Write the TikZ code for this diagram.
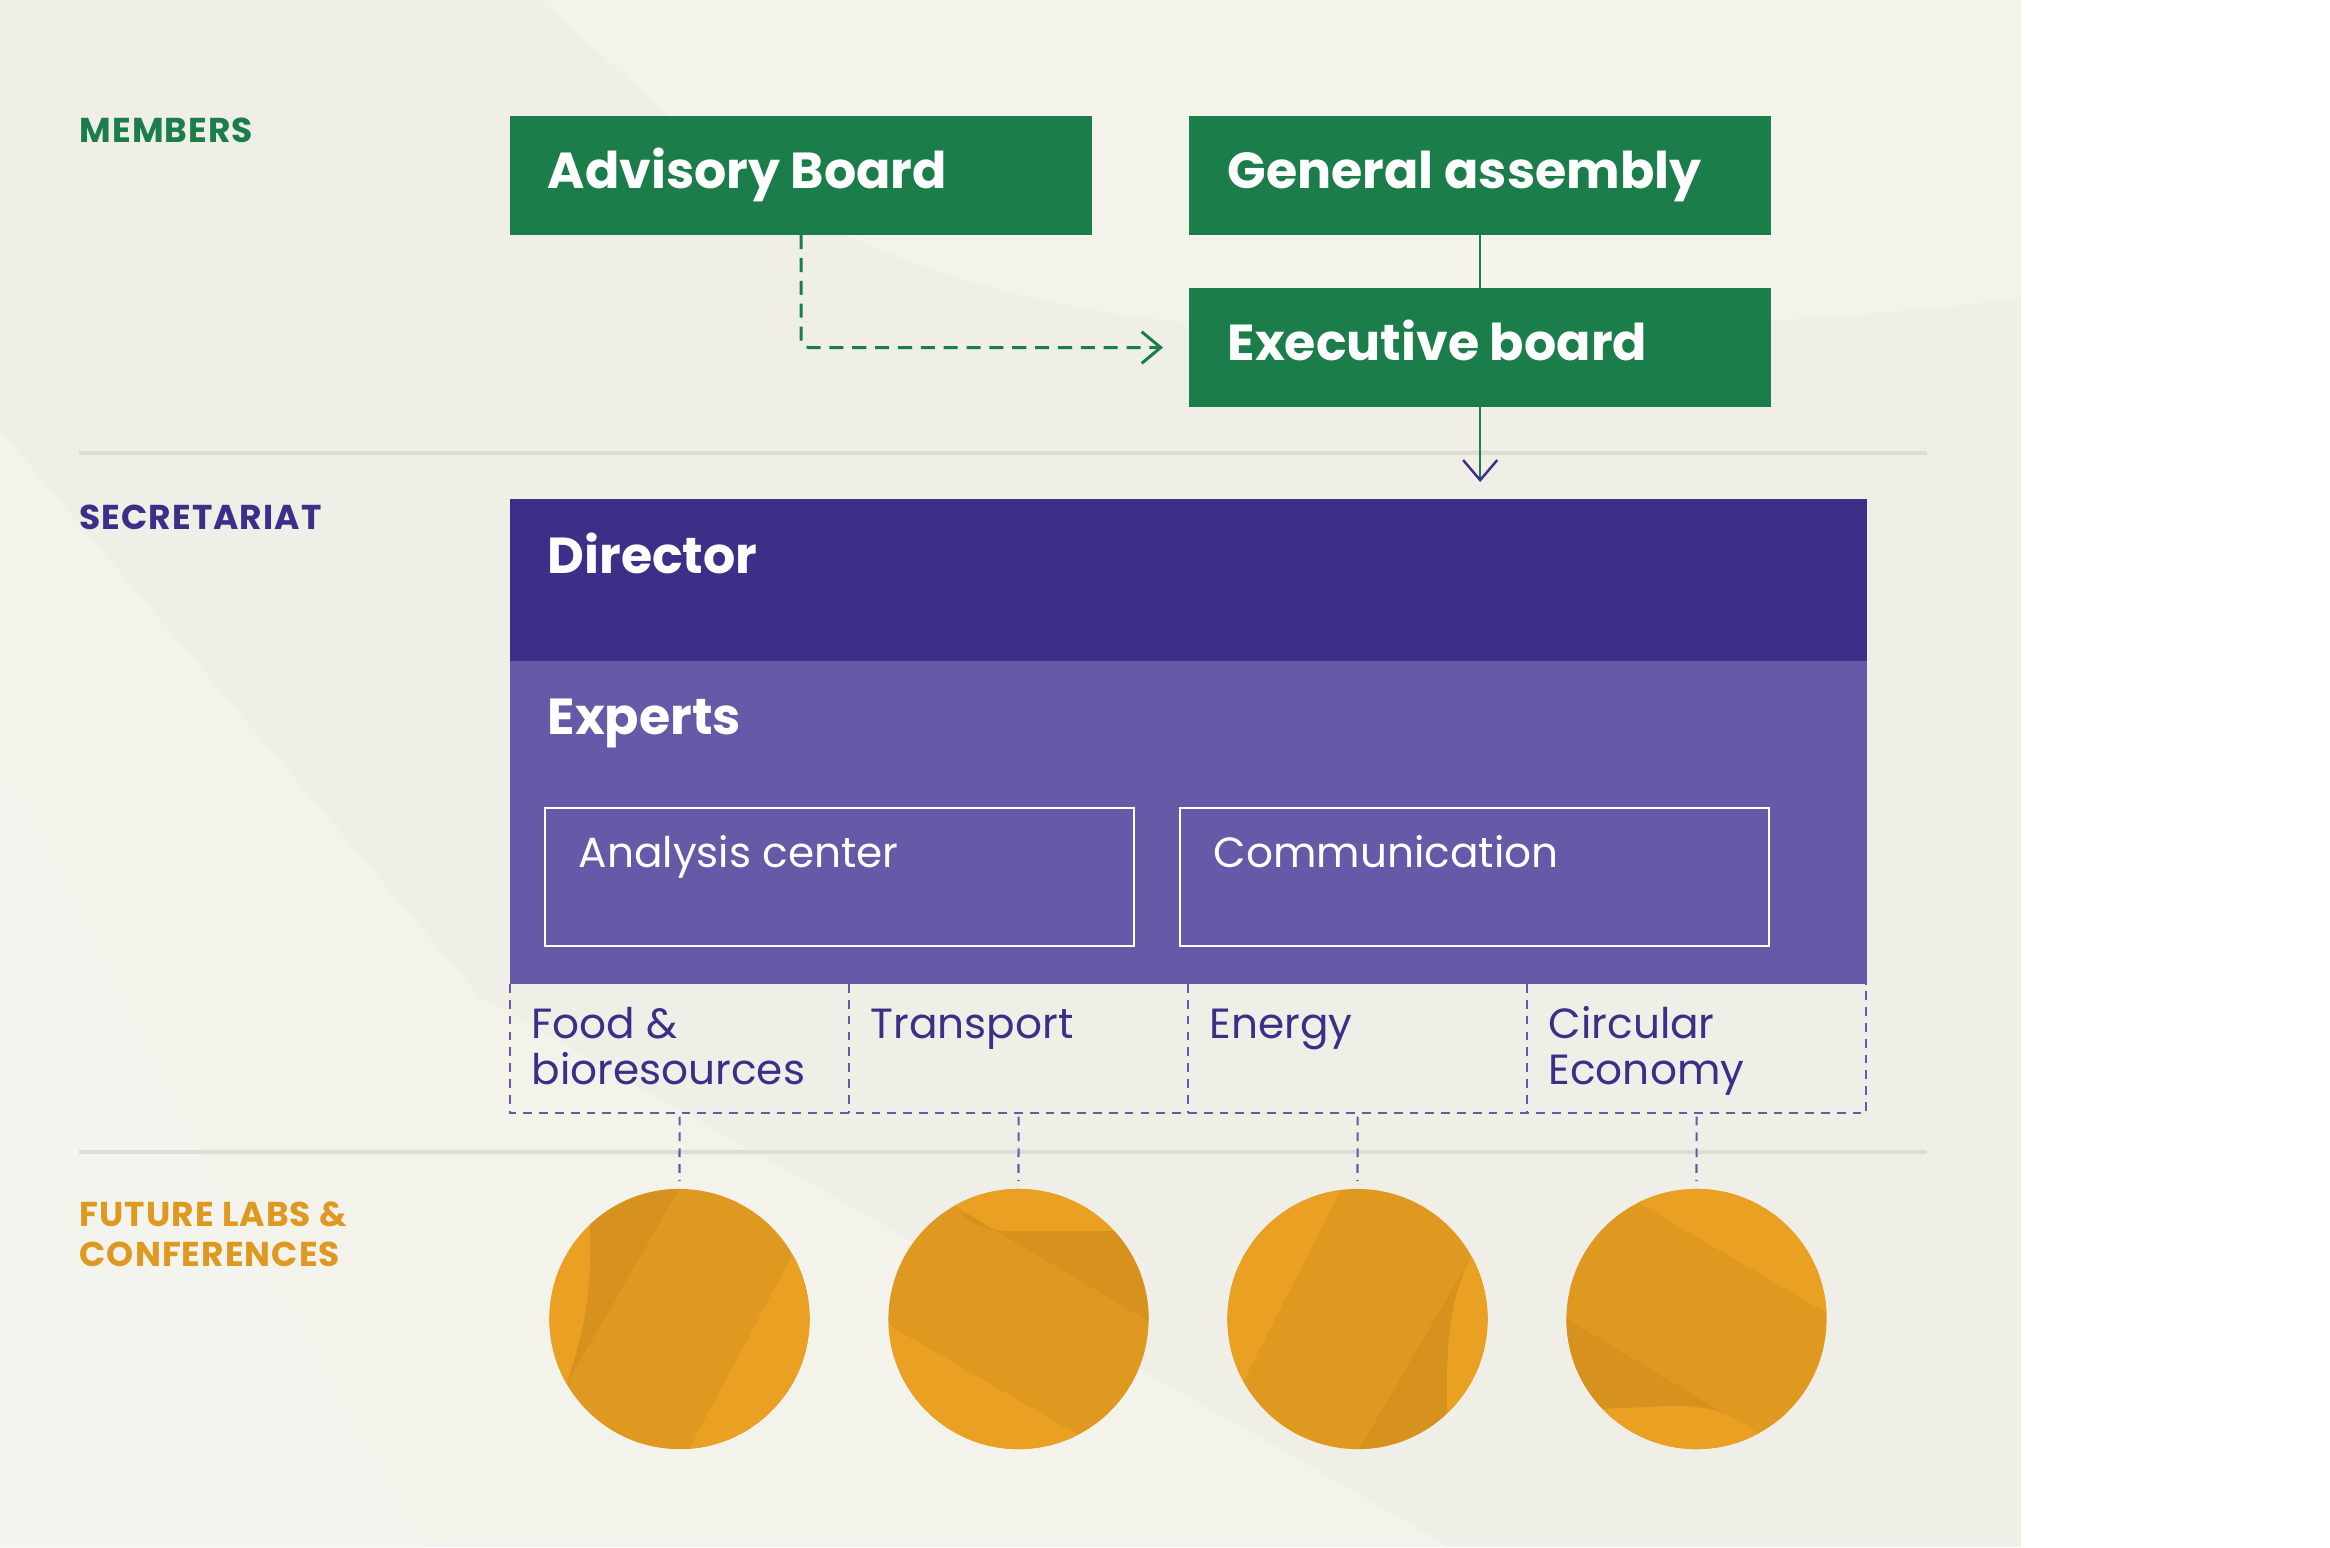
\documentclass[tikz,border=0pt]{standalone}
\usepackage{fontspec}
\setmainfont{Poppins}
\usetikzlibrary{arrows.meta}

\definecolor{boardgreen}{HTML}{1B7D4A}
\definecolor{dirpurple}{HTML}{3D2E88}
\definecolor{exppurple}{HTML}{6659A7}
\definecolor{labgold}{HTML}{DF9820}
\definecolor{labgoldlight}{HTML}{E9A023}
\definecolor{labgolddark}{HTML}{D6911F}
\definecolor{paper}{HTML}{EFEEE7}
\definecolor{paperlight}{HTML}{F3F3EC}
\definecolor{paperlighter}{HTML}{F4F4EE}
\definecolor{rulegrey}{HTML}{DDDCD6}

\begin{document}
\begin{tikzpicture}[x=0.01cm, y=-0.01cm,
    box/.style={rectangle, anchor=north west, inner sep=0pt, outer sep=0pt},
    title/.style={anchor=base west, inner sep=0pt, text=white, font=\fontsize{14.4}{16}\selectfont\bfseries},
    side/.style={anchor=base west, inner sep=0pt, font=\fontsize{9.8}{11}\selectfont\bfseries\addfontfeatures{LetterSpace=3}},
    plain/.style={anchor=base west, inner sep=0pt, font=\fontsize{12}{13}\selectfont},
    purpledash/.style={exppurple, line width=0.6pt, dash pattern=on 2.5pt off 2pt}]
  \useasboundingbox (0,0) rectangle (2330,1547);
  % background
  \fill[white] (0,0) rectangle (2330,1547);
  \fill[paper] (0,0) rectangle (2021,1547);
  \fill[paperlight] (540,0) -- (666,113) .. controls (800,240) and (1000,320) .. (1300,330)
     .. controls (1600,335) and (1850,320) .. (2021,298) -- (2021,0) -- cycle;
  \fill[paperlight] (0,430) -- (480,997) -- (1283,1450) -- (1450,1547) -- (0,1547) -- cycle;
  \fill[paperlighter] (0,760) -- (173,1100) -- (423,1547) -- (0,1547) -- cycle;
  \draw[rulegrey, line width=1.15pt] (79,453) -- (1927,453);
  \draw[rulegrey, line width=1.15pt] (79,1152) -- (1927,1152);

  % section labels
  \node[side, text=boardgreen] (members) at (79,142) {MEMBERS};
  \node[side, text=dirpurple] (secretariat) at (79,529) {SECRETARIAT};
  \node[side, text=labgold] (labs) at (79,1226) {FUTURE LABS \&};
  \node[side, text=labgold] (conferences) at (79,1266) {CONFERENCES};

  % members
  \node[box, fill=boardgreen, minimum width=5.82cm, minimum height=1.19cm] (advisory) at (510,116) {};
  \node[box, fill=boardgreen, minimum width=5.82cm, minimum height=1.19cm] (assembly) at (1189,116) {};
  \node[box, fill=boardgreen, minimum width=5.82cm, minimum height=1.19cm] (executive) at (1189,288) {};
  \node[title] (advisory-t) at (547,188) {Advisory Board};
  \node[title] (assembly-t) at (1227,188) {General assembly};
  \node[title] (executive-t) at (1227,360) {Executive board};

  % secretariat
  \node[box, fill=dirpurple, minimum width=13.56cm, minimum height=1.62cm] (director) at (510,499) {};
  \node[box, fill=exppurple, minimum width=13.56cm, minimum height=3.23cm] (experts) at (510,661) {};
  \node[title] (director-t) at (547,573) {Director};
  \node[title] (experts-t) at (547,734) {Experts};
  \node[box, draw=white, line width=0.6pt, minimum width=5.89cm, minimum height=1.38cm] (analysis) at (545,808) {};
  \node[box, draw=white, line width=0.6pt, minimum width=5.89cm, minimum height=1.38cm] (communication) at (1180,808) {};
  \node[plain, text=white] (analysis-t) at (578,867) {Analysis center};
  \node[plain, text=white] (communication-t) at (1213,867) {Communication};

  % topics and labs
  \foreach \i/\name/\first/\second in {0/food/Food \&/bioresources, 1/transport/Transport/, 2/energy/Energy/, 3/circular/Circular/Economy} {
    \node[box, minimum width=3.39cm, minimum height=1.29cm] (\name) at (510+339*\i,984) {};
    \node[plain, text=dirpurple] (\name-a) at (531+339*\i,1038) {\first};
    \node[plain, text=dirpurple] (\name-b) at (531+339*\i,1084) {\second};
    \node[circle, fill=labgold, minimum size=2.6cm, inner sep=0pt] (\name-lab) at (679.5+339*\i,1319) {};
    \draw[purpledash] ([yshift=-1pt]\name.south) -- ([yshift=2pt]\name-lab.north);
  }
  \draw[purpledash] (food.north west) -- (food.south west) -- (circular.south east) -- (circular.north east);
  \foreach \name in {food,transport,energy}
    \draw[purpledash] (\name.north east) -- (\name.south east);

  % facets on the circles
  \begin{scope}
    \clip (food-lab.center) circle (1.3cm);
    \fill[labgolddark] (690,1170) -- (566,1385) .. controls (585,1330) and (592,1290) .. (590,1225) -- (590,1170) -- cycle;
    \fill[labgoldlight] (590,1225) .. controls (592,1290) and (585,1330) .. (566,1385) -- (540,1385) -- (540,1225) -- cycle;
    \fill[labgoldlight] (795,1250) -- (683,1460) -- (830,1460) -- (830,1250) -- cycle;
  \end{scope}
  \begin{scope}
    \clip (transport-lab.center) circle (1.3cm);
    \fill[labgoldlight] (940,1180) -- (956,1207) .. controls (975,1232) and (995,1231) .. (1020,1231) -- (1160,1231) -- (1160,1180) -- cycle;
    \fill[labgolddark] (956,1207) -- (1150,1322) -- (1160,1231) -- (1020,1231) .. controls (995,1231) and (975,1232) .. (956,1207) -- cycle;
    \fill[labgoldlight] (880,1320) -- (1080,1436) -- (1080,1460) -- (880,1460) -- cycle;
  \end{scope}
  \begin{scope}
    \clip (energy-lab.center) circle (1.3cm);
    \fill[labgoldlight] (1346,1180) -- (1240,1388) -- (1220,1388) -- (1220,1180) -- cycle;
    \fill[labgolddark] (1471,1257) -- (1350,1465) -- (1447,1465) -- (1447,1410) .. controls (1446,1330) and (1452,1295) .. (1471,1257) -- cycle;
    \fill[labgoldlight] (1471,1257) .. controls (1452,1295) and (1446,1330) .. (1447,1410) -- (1500,1410) -- (1500,1257) -- cycle;
  \end{scope}
  \begin{scope}
    \clip (circular-lab.center) circle (1.3cm);
    \fill[labgoldlight] (1625,1195) -- (1832,1316) -- (1840,1170) -- (1625,1170) -- cycle;
    \fill[labgolddark] (1560,1315) -- (1757,1433) .. controls (1730,1410) and (1700,1405) .. (1667,1406) -- (1600,1409) -- (1560,1409) -- cycle;
    \fill[labgoldlight] (1560,1409) -- (1600,1409) -- (1667,1406) .. controls (1700,1405) and (1730,1410) .. (1757,1433) -- (1760,1460) -- (1560,1460) -- cycle;
  \end{scope}

  % connectors
  \draw[boardgreen, line width=0.6pt] (assembly.south) -- (executive.north);
  \draw[boardgreen, line width=0.7pt, shorten >=0.17cm, -{Straight Barb[length=5.7pt, width=9.7pt, color=dirpurple]}]
    (executive.south) -- (executive.south |- director.north);
  \draw[boardgreen, line width=0.85pt, dash pattern=on 4pt off 2.5pt, rounded corners=0.08cm, shorten >=0.26cm,
    -{Straight Barb[length=5.4pt, width=9pt]}] (advisory.south) |- (executive.west);
\end{tikzpicture}
\end{document}
